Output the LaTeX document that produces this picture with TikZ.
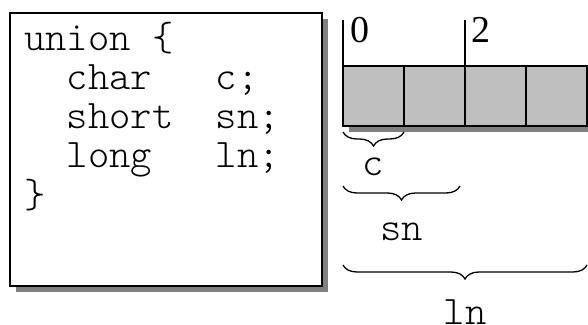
\documentclass[tikz,border=0pt]{standalone}
\usepackage{fontspec}
\setmainfont{Liberation Serif}
\setmonofont{lmmonolt10-regular.otf}
\usetikzlibrary{positioning,shadows,decorations.pathreplacing}

\tikzset{
  box/.style={draw, line width=1.3pt, fill=white, inner sep=0pt, outer sep=0pt,
    drop shadow={shadow xshift=6pt, shadow yshift=-6pt, fill=black!50, opacity=1}},
  cell/.style={box, fill=black!25, minimum width=61pt, minimum height=60pt},
  code/.style={inner sep=0pt, font=\fontsize{40.6}{39}\selectfont\ttfamily},
  offsetlbl/.style={inner sep=0pt, anchor=base west, font=\fontsize{38}{38}\selectfont},
  span/.style={decorate, decoration={brace, mirror, amplitude=14pt}, line width=1.3pt},
}

\begin{document}
\begin{tikzpicture}[x=1pt, y=-1pt]
    \useasboundingbox (0,0) rectangle (588,324);

    % ------------------ Declaration ------------------

    \node[box, minimum width=312pt, minimum height=273pt] (decl) at (166,149.5) {};
    \node[code, anchor=base west] (src) at (24,50)
        {\begin{tabular}[t]{@{}l@{}}
          union \{\\
          \ \ char\ \ \ c;\\
          \ \ short\ \ sn;\\
          \ \ long\ \ \ ln;\\
          \}
        \end{tabular}};

    % ------------------ Memory layout ------------------

    % Bytes
    \foreach \i in {1,...,4}
        \node[cell] (cell\i) at (312.5+61*\i,96) {};

    % Offsets
    \draw[line width=1.3pt] (cell1.north west) -- ++(0,-46) coordinate (tick0);
    \draw[line width=1.3pt] (cell3.north west) -- ++(0,-46) coordinate (tick2);
    \node[offsetlbl] (off0) at (350,42) {0};
    \node[offsetlbl] (off2) at (471,42) {2};

    % Members
    \draw[span] ([yshift=-6pt]cell1.south west) -- ([yshift=-6pt]cell1.south east)
        node[code, midway, anchor=base, yshift=-43pt] (lblc) {c};
    \draw[span] ([yshift=-60pt]cell1.south west) -- ([xshift=-5pt, yshift=-60pt]cell2.south east)
        node[code, midway, anchor=base, yshift=-54pt] (lblsn) {sn};
    \draw[span] ([yshift=-139pt]cell1.south west) -- ([yshift=-139pt]cell4.south east)
        node[code, midway, anchor=base, yshift=-59pt] (lblln) {ln};

\end{tikzpicture}
\end{document}
